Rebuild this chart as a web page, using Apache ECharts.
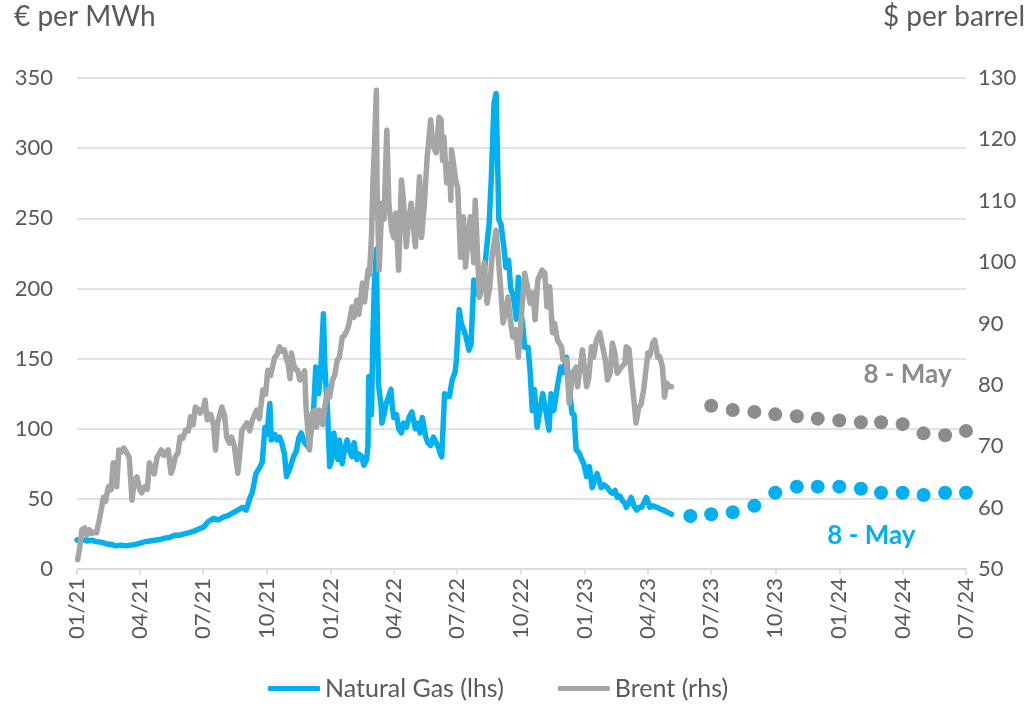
<!DOCTYPE html>
<html>
<head>
<meta charset="utf-8">
<script src="https://cdn.jsdelivr.net/npm/echarts@6/dist/echarts.min.js"></script>
<style>
  html, body { margin: 0; padding: 0; background: #fff; }
  #chart { width: 1035px; height: 711px; }
</style>
</head>
<body>
<div id="chart"></div>
<script>
// Natural gas (TTF, € per MWh), daily history sampled
const gas2021 = [
  ['2021-01-01', 20.7], ['2021-01-08', 21], ['2021-01-15', 20], ['2021-01-22', 20.5], ['2021-01-29', 19.5],
  ['2021-02-05', 19], ['2021-02-12', 18], ['2021-02-19', 17.5], ['2021-02-26', 16.5], ['2021-03-05', 17],
  ['2021-03-12', 16.5], ['2021-03-19', 17], ['2021-03-26', 17.5], ['2021-04-02', 18.5], ['2021-04-09', 19.5],
  ['2021-04-16', 20], ['2021-04-23', 20.5], ['2021-04-30', 21], ['2021-05-07', 22], ['2021-05-14', 22.5],
  ['2021-05-21', 24], ['2021-05-28', 24], ['2021-06-04', 25], ['2021-06-11', 26], ['2021-06-18', 27],
  ['2021-06-25', 28.5], ['2021-07-02', 30], ['2021-07-09', 34], ['2021-07-16', 36], ['2021-07-23', 35],
  ['2021-07-30', 37], ['2021-08-06', 38], ['2021-08-13', 40], ['2021-08-20', 42], ['2021-08-27', 44],
  ['2021-09-01', 42], ['2021-09-06', 50], ['2021-09-10', 55], ['2021-09-15', 68], ['2021-09-20', 72],
  ['2021-09-24', 76], ['2021-09-28', 101], ['2021-10-01', 96], ['2021-10-05', 118], ['2021-10-07', 92],
  ['2021-10-12', 96], ['2021-10-15', 92], ['2021-10-19', 94], ['2021-10-22', 90], ['2021-10-26', 82],
  ['2021-10-29', 66], ['2021-11-03', 72], ['2021-11-08', 80], ['2021-11-12', 84], ['2021-11-16', 94],
  ['2021-11-19', 97], ['2021-11-24', 90], ['2021-11-29', 87], ['2021-12-02', 95], ['2021-12-06', 105],
  ['2021-12-10', 144], ['2021-12-14', 125], ['2021-12-17', 140], ['2021-12-21', 182], ['2021-12-23', 145],
  ['2021-12-27', 111], ['2021-12-30', 73]
];
const gas2022 = [
  ['2022-01-03', 80], ['2022-01-05', 97], ['2022-01-07', 85], ['2022-01-11', 78], ['2022-01-13', 92],
  ['2022-01-17', 75], ['2022-01-20', 84], ['2022-01-24', 92], ['2022-01-27', 85], ['2022-01-31', 80],
  ['2022-02-03', 90], ['2022-02-07', 78], ['2022-02-10', 82], ['2022-02-14', 80], ['2022-02-17', 74],
  ['2022-02-21', 78], ['2022-02-23', 88], ['2022-02-24', 137], ['2022-02-28', 110], ['2022-03-02', 165],
  ['2022-03-04', 200], ['2022-03-07', 228], ['2022-03-08', 190], ['2022-03-10', 132], ['2022-03-14', 115],
  ['2022-03-15', 104], ['2022-03-18', 110], ['2022-03-21', 118], ['2022-03-24', 122], ['2022-03-28', 128],
  ['2022-03-30', 115], ['2022-04-01', 108], ['2022-04-05', 110], ['2022-04-08', 100], ['2022-04-12', 97],
  ['2022-04-15', 104], ['2022-04-19', 101], ['2022-04-23', 108], ['2022-04-27', 112], ['2022-05-02', 100],
  ['2022-05-05', 104], ['2022-05-09', 97], ['2022-05-12', 108], ['2022-05-17', 94], ['2022-05-20', 90],
  ['2022-05-24', 88], ['2022-05-28', 94], ['2022-06-01', 90], ['2022-06-04', 87], ['2022-06-07', 82],
  ['2022-06-09', 80], ['2022-06-13', 125], ['2022-06-16', 123], ['2022-06-20', 123], ['2022-06-24', 135],
  ['2022-06-28', 140], ['2022-06-30', 149], ['2022-07-04', 185], ['2022-07-07', 175], ['2022-07-11', 170],
  ['2022-07-14', 165], ['2022-07-18', 156], ['2022-07-21', 160], ['2022-07-25', 206], ['2022-07-28', 200],
  ['2022-08-02', 194], ['2022-08-05', 200], ['2022-08-09', 210], ['2022-08-12', 227], ['2022-08-16', 246],
  ['2022-08-19', 277], ['2022-08-23', 332], ['2022-08-26', 339], ['2022-08-30', 249], ['2022-09-02', 246],
  ['2022-09-06', 230], ['2022-09-09', 215], ['2022-09-13', 220], ['2022-09-16', 200], ['2022-09-20', 194],
  ['2022-09-24', 178], ['2022-09-27', 208], ['2022-09-30', 185], ['2022-10-03', 175], ['2022-10-06', 158],
  ['2022-10-11', 158], ['2022-10-14', 140], ['2022-10-17', 113], ['2022-10-20', 128], ['2022-10-24', 101],
  ['2022-10-27', 110], ['2022-11-01', 125], ['2022-11-06', 111], ['2022-11-10', 99], ['2022-11-13', 125],
  ['2022-11-17', 113], ['2022-11-22', 130], ['2022-11-27', 144], ['2022-12-01', 140], ['2022-12-05', 151],
  ['2022-12-09', 130], ['2022-12-13', 111], ['2022-12-16', 110], ['2022-12-19', 85], ['2022-12-23', 83],
  ['2022-12-27', 78], ['2022-12-30', 75]
];
const gas2023 = [
  ['2023-01-03', 66], ['2023-01-07', 73], ['2023-01-11', 58], ['2023-01-15', 64], ['2023-01-18', 68],
  ['2023-01-24', 58], ['2023-01-28', 60], ['2023-02-02', 58], ['2023-02-06', 55], ['2023-02-09', 54],
  ['2023-02-13', 56], ['2023-02-16', 51], ['2023-02-20', 52], ['2023-02-23', 49], ['2023-02-27', 47],
  ['2023-03-01', 44], ['2023-03-05', 47], ['2023-03-08', 51], ['2023-03-12', 45], ['2023-03-16', 42],
  ['2023-03-20', 44], ['2023-03-23', 44], ['2023-03-27', 48], ['2023-03-30', 51], ['2023-04-04', 44],
  ['2023-04-08', 45], ['2023-04-14', 44], ['2023-04-18', 43], ['2023-04-23', 42], ['2023-04-27', 41],
  ['2023-05-01', 40], ['2023-05-05', 39]
];
// Natural gas forward curve (monthly)
const gasForward = [
  ['2023-06-01', 37.8], ['2023-07-01', 39.0], ['2023-08-01', 40.4], ['2023-09-01', 45.1], ['2023-10-01', 54.4],
  ['2023-11-01', 58.7], ['2023-12-01', 58.7], ['2024-01-01', 58.7], ['2024-02-01', 57.2], ['2024-03-01', 54.4],
  ['2024-04-01', 54.4], ['2024-05-01', 52.7], ['2024-06-01', 54.4], ['2024-07-01', 54.4]
];

// Brent ($ per barrel), daily history sampled
const brent2021 = [
  ['2021-01-02', 51.5], ['2021-01-05', 53.5], ['2021-01-08', 56.4], ['2021-01-12', 56.7], ['2021-01-15', 55.5],
  ['2021-01-19', 56.4], ['2021-01-22', 55.8], ['2021-01-26', 56], ['2021-01-29', 55.9], ['2021-02-03', 58.5],
  ['2021-02-08', 61.7], ['2021-02-11', 61], ['2021-02-15', 63.4], ['2021-02-19', 62.9], ['2021-02-22', 67.3],
  ['2021-02-25', 66], ['2021-02-27', 63.4], ['2021-03-02', 69.4], ['2021-03-05', 69], ['2021-03-09', 69.7],
  ['2021-03-12', 69.2], ['2021-03-17', 68.2], ['2021-03-21', 61.2], ['2021-03-24', 64], ['2021-03-28', 65],
  ['2021-04-01', 63], ['2021-04-04', 62.4], ['2021-04-08', 63.4], ['2021-04-12', 63], ['2021-04-15', 67.3],
  ['2021-04-19', 66.1], ['2021-04-22', 65.5], ['2021-04-26', 68.2], ['2021-05-02', 69.4], ['2021-05-06', 68.5],
  ['2021-05-12', 69.4], ['2021-05-16', 65.6], ['2021-05-19', 66.5], ['2021-05-22', 68.2], ['2021-05-26', 68.9],
  ['2021-05-29', 71.5], ['2021-06-02', 71.3], ['2021-06-06', 72.6], ['2021-06-10', 72.5], ['2021-06-13', 74.8],
  ['2021-06-17', 73.5], ['2021-06-20', 76.4], ['2021-06-24', 76], ['2021-06-27', 75.4], ['2021-07-01', 76],
  ['2021-07-04', 77.5], ['2021-07-07', 74.3], ['2021-07-12', 75.2], ['2021-07-16', 73.5], ['2021-07-19', 69.4],
  ['2021-07-22', 73.8], ['2021-07-28', 76.4], ['2021-08-01', 75], ['2021-08-04', 71.5], ['2021-08-08', 70.5],
  ['2021-08-11', 71.5], ['2021-08-15', 70], ['2021-08-20', 65.6], ['2021-08-23', 69], ['2021-08-26', 72.6],
  ['2021-09-02', 73.8], ['2021-09-06', 72.5], ['2021-09-10', 74.3], ['2021-09-16', 75.9], ['2021-09-20', 74.5],
  ['2021-09-25', 79.2], ['2021-09-29', 78.5], ['2021-10-02', 82.4], ['2021-10-06', 81.5], ['2021-10-12', 84.5],
  ['2021-10-15', 84.8], ['2021-10-19', 86.2], ['2021-10-22', 85.5], ['2021-10-26', 85.7], ['2021-10-29', 84],
  ['2021-10-31', 83.6], ['2021-11-03', 81], ['2021-11-05', 85.2], ['2021-11-08', 83.4], ['2021-11-11', 82.5],
  ['2021-11-14', 82.4], ['2021-11-17', 80.8], ['2021-11-21', 81.3], ['2021-11-24', 82.3], ['2021-11-26', 76.4],
  ['2021-11-29', 72], ['2021-12-01', 69.4], ['2021-12-05', 75.4], ['2021-12-08', 75.8], ['2021-12-11', 73.1],
  ['2021-12-15', 75.9], ['2021-12-20', 73.5], ['2021-12-23', 76.4], ['2021-12-27', 79.2], ['2021-12-30', 78]
];
const brent2022 = [
  ['2022-01-03', 80.8], ['2022-01-06', 81.5], ['2022-01-10', 84.1], ['2022-01-13', 84.5], ['2022-01-17', 87.8],
  ['2022-01-20', 88], ['2022-01-24', 88.9], ['2022-01-27', 90.1], ['2022-01-31', 92.7], ['2022-02-03', 91],
  ['2022-02-07', 93.8], ['2022-02-10', 91.5], ['2022-02-15', 96.6], ['2022-02-18', 93.5], ['2022-02-23', 98.7],
  ['2022-02-25', 97.9], ['2022-02-28', 104.1], ['2022-03-02', 112.9], ['2022-03-04', 118], ['2022-03-07', 128],
  ['2022-03-08', 112.2], ['2022-03-11', 98.7], ['2022-03-15', 109.6], ['2022-03-18', 107], ['2022-03-22', 121.5],
  ['2022-03-25', 109.6], ['2022-03-29', 105.2], ['2022-04-01', 104], ['2022-04-04', 108], ['2022-04-08', 98.7],
  ['2022-04-12', 113.4], ['2022-04-15', 110], ['2022-04-19', 102.5], ['2022-04-22', 106.5], ['2022-04-26', 109.6],
  ['2022-04-29', 106], ['2022-05-02', 102.5], ['2022-05-05', 108], ['2022-05-08', 113.9], ['2022-05-11', 104],
  ['2022-05-15', 109.6], ['2022-05-19', 117.1], ['2022-05-24', 123.2], ['2022-05-27', 119], ['2022-06-01', 117.8],
  ['2022-06-05', 123.6], ['2022-06-08', 123.2], ['2022-06-10', 116.6], ['2022-06-12', 120.4], ['2022-06-16', 112.9],
  ['2022-06-20', 116], ['2022-06-22', 110.1], ['2022-06-23', 118.3], ['2022-06-29', 113.4], ['2022-07-02', 112],
  ['2022-07-06', 100.8], ['2022-07-10', 107.4], ['2022-07-13', 99.2], ['2022-07-16', 103], ['2022-07-20', 107.4],
  ['2022-07-25', 99.9], ['2022-07-27', 110.1], ['2022-08-02', 94.3], ['2022-08-05', 97], ['2022-08-09', 99.9],
  ['2022-08-13', 93.3], ['2022-08-17', 96], ['2022-08-20', 100.8], ['2022-08-26', 105.2], ['2022-09-01', 96.6],
  ['2022-09-05', 90.1], ['2022-09-09', 92], ['2022-09-12', 94.3], ['2022-09-15', 91], ['2022-09-19', 87.8],
  ['2022-09-23', 89], ['2022-09-27', 84.5], ['2022-10-02', 92.2], ['2022-10-06', 98.2], ['2022-10-10', 96],
  ['2022-10-14', 93.3], ['2022-10-18', 95], ['2022-10-21', 90.6], ['2022-10-25', 97.1], ['2022-10-31', 98.7],
  ['2022-11-04', 98.2], ['2022-11-07', 92.7], ['2022-11-11', 96], ['2022-11-15', 88.5], ['2022-11-18', 90],
  ['2022-11-22', 87.3], ['2022-11-28', 86.2], ['2022-11-30', 84.1], ['2022-12-05', 84.1], ['2022-12-09', 77],
  ['2022-12-14', 81.9], ['2022-12-19', 82.9], ['2022-12-21', 79.7], ['2022-12-28', 85.7]
];
const brent2023 = [
  ['2023-01-03', 79.7], ['2023-01-06', 81], ['2023-01-10', 86.2], ['2023-01-13', 84.5], ['2023-01-17', 87.3],
  ['2023-01-22', 88.5], ['2023-01-26', 86.2], ['2023-01-30', 84], ['2023-02-02', 80.8], ['2023-02-06', 82],
  ['2023-02-09', 86.8], ['2023-02-13', 85], ['2023-02-16', 81.9], ['2023-02-22', 82.9], ['2023-02-27', 83.5],
  ['2023-03-01', 86.2], ['2023-03-05', 85.8], ['2023-03-08', 81.9], ['2023-03-12', 77.5], ['2023-03-15', 73.8],
  ['2023-03-19', 76.4], ['2023-03-22', 76.7], ['2023-03-26', 79.2], ['2023-04-01', 85.2], ['2023-04-04', 84.8],
  ['2023-04-08', 86.8], ['2023-04-11', 87.3], ['2023-04-15', 84.5], ['2023-04-18', 84.6], ['2023-04-22', 82.9],
  ['2023-04-25', 78], ['2023-04-28', 80.3], ['2023-05-02', 79.7], ['2023-05-05', 79.7]
];
// Brent forward curve (monthly)
const brentForward = [
  ['2023-07-01', 76.6], ['2023-08-01', 75.9], ['2023-09-01', 75.6], ['2023-10-01', 75.2], ['2023-11-01', 74.9],
  ['2023-12-01', 74.5], ['2024-01-01', 74.2], ['2024-02-01', 73.9], ['2024-03-01', 73.9], ['2024-04-01', 73.6],
  ['2024-05-01', 72.1], ['2024-06-01', 71.8], ['2024-07-01', 72.5]
];

// Quarterly axis ticks
const quarterTicks = [
  '2021-01-01', '2021-04-01', '2021-07-01', '2021-10-01', '2022-01-01', '2022-04-01', '2022-07-01',
  '2022-10-01', '2023-01-01', '2023-04-01', '2023-07-01', '2023-10-01', '2024-01-01', '2024-04-01', '2024-07-01'
];
const curveDateLabel = '8 - May';

const ts = s => { const p = s.split('-').map(Number); return Date.UTC(p[0], p[1] - 1, p[2]); };
const toPoints = arr => arr.map(d => [ts(d[0]), d[1]]);

const BLUE = '#00B0F0';
const GREY = '#A5A5A5';
const DARK_GREY = '#8C8C8C';
const TEXT = '#595959';
const FONT = 'Lato, "Open Sans", sans-serif';

const tickValues = quarterTicks.map(ts);

const chart = echarts.init(document.getElementById('chart'), null, { renderer: 'canvas' });
chart.setOption({
  animation: false,
  textStyle: { fontFamily: FONT },
  grid: { left: 77, right: 69, top: 78, bottom: 142, containLabel: false },
  graphic: [
    { type: 'text', left: 14, top: 3, style: { text: '€ per MWh', font: '28px ' + FONT, fill: TEXT } },
    { type: 'text', right: 10, top: 3, style: { text: '$ per barrel', font: '28px ' + FONT, fill: TEXT } }
  ],
  legend: {
    bottom: 5,
    left: 263,
    icon: 'roundRect',
    itemWidth: 52,
    itemHeight: 5,
    itemGap: 54,
    data: ['Natural Gas (lhs)', 'Brent (rhs)'],
    textStyle: { fontSize: 25, color: TEXT, fontFamily: FONT }
  },
  xAxis: {
    type: 'value',
    min: ts('2021-01-01'),
    max: ts('2024-07-01'),
    axisLine: { show: true, lineStyle: { color: '#D9D9D9', width: 1.5 } },
    axisTick: { show: true, length: 6, lineStyle: { color: '#D9D9D9', width: 1.5 }, customValues: tickValues },
    splitLine: { show: false },
    axisLabel: {
      rotate: 90,
      margin: 9,
      fontSize: 22,
      color: TEXT,
      fontFamily: FONT,
      customValues: tickValues,
      formatter: v => {
        const d = new Date(v);
        const m = String(d.getUTCMonth() + 1).padStart(2, '0');
        const y = String(d.getUTCFullYear()).slice(2);
        return m + '/' + y;
      }
    }
  },
  yAxis: [
    {
      type: 'value', min: 0, max: 350, interval: 50, position: 'left',
      axisLine: { show: false }, axisTick: { show: false },
      splitLine: { show: true, lineStyle: { color: '#D9D9D9', width: 1.5 } },
      axisLabel: { fontSize: 22, color: TEXT, margin: 24, fontFamily: FONT }
    },
    {
      type: 'value', min: 50, max: 130, interval: 10, position: 'right',
      axisLine: { show: false }, axisTick: { show: false }, splitLine: { show: false },
      axisLabel: { fontSize: 22, color: TEXT, margin: 12, fontFamily: FONT }
    }
  ],
  series: [
    {
      name: 'Natural Gas (lhs)', type: 'line', yAxisIndex: 0, showSymbol: false,
      data: toPoints(gas2021.concat(gas2022, gas2023)),
      lineStyle: { color: BLUE, width: 5.5, join: 'round', cap: 'round' }, itemStyle: { color: BLUE }, z: 2
    },
    {
      name: 'Brent (rhs)', type: 'line', yAxisIndex: 1, showSymbol: false,
      data: toPoints(brent2021.concat(brent2022, brent2023)),
      lineStyle: { color: GREY, width: 5.5, join: 'round', cap: 'round' }, itemStyle: { color: GREY }, z: 3
    },
    {
      name: 'Gas curve', type: 'scatter', yAxisIndex: 0, symbolSize: 14,
      data: toPoints(gasForward), itemStyle: { color: BLUE, opacity: 1 }, z: 4,
      markPoint: {
        symbol: 'circle', symbolSize: 0,
        label: { show: true, position: 'inside', formatter: curveDateLabel, fontSize: 26, fontWeight: 'bold', color: BLUE, fontFamily: FONT },
        data: [{ coord: [ts('2024-02-16'), 23.5] }]
      }
    },
    {
      name: 'Brent curve', type: 'scatter', yAxisIndex: 1, symbolSize: 14,
      data: toPoints(brentForward), itemStyle: { color: DARK_GREY, opacity: 1 }, z: 4,
      markPoint: {
        symbol: 'circle', symbolSize: 0,
        label: { show: true, position: 'inside', formatter: curveDateLabel, fontSize: 26, fontWeight: 'bold', color: DARK_GREY, fontFamily: FONT },
        data: [{ coord: [ts('2024-04-08'), 81.6] }]
      }
    }
  ]
});
</script>
</body>
</html>
